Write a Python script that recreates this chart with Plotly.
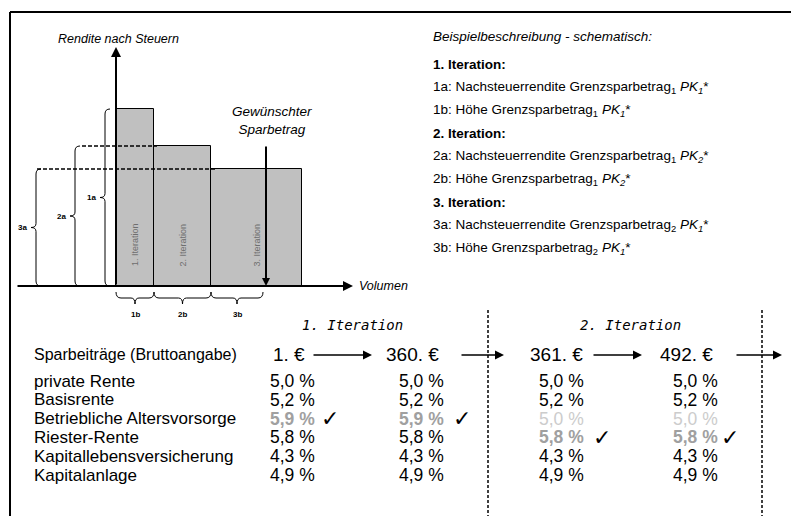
import plotly.graph_objects as go

# --- Schematic diagram data (arbitrary units, origin at axis cross) ---
bar_labels = ["1. Iteration", "2. Iteration", "3. Iteration"]
bar_widths = [38, 57, 91]
bar_returns = [177, 140, 117]
desired_volume = 150
brace_a_labels = ["1a", "2a", "3a"]
brace_b_labels = ["1b", "2b", "3b"]

# --- Description text ---
desc_lines = [
    "<i>Beispielbeschreibung - schematisch:</i>",
    "<b>1. Iteration:</b>",
    "1a: Nachsteuerrendite Grenzsparbetrag<sub>1</sub> <i>PK<sub>1</sub></i>*",
    "1b: Höhe Grenzsparbetrag<sub>1</sub> <i>PK<sub>1</sub></i>*",
    "<b>2. Iteration:</b>",
    "2a: Nachsteuerrendite Grenzsparbetrag<sub>1</sub> <i>PK<sub>2</sub></i>*",
    "2b: Höhe Grenzsparbetrag<sub>1</sub> <i>PK<sub>2</sub></i>*",
    "<b>3. Iteration:</b>",
    "3a: Nachsteuerrendite Grenzsparbetrag<sub>2</sub> <i>PK<sub>1</sub></i>*",
    "3b: Höhe Grenzsparbetrag<sub>2</sub> <i>PK<sub>1</sub></i>*",
]

# --- Table data ---
iterations = ["1. Iteration", "2. Iteration"]
amounts = ["1. €", "360. €", "361. €", "492. €"]
products = ["private Rente", "Basisrente", "Betriebliche Altersvorsorge",
            "Riester-Rente", "Kapitallebensversicherung", "Kapitalanlage"]
col1 = [5.0, 5.2, 5.9, 5.8, 4.3, 4.9]
col2 = [5.0, 5.2, 5.9, 5.8, 4.3, 4.9]
col3 = [5.0, 5.2, 5.0, 5.8, 4.3, 4.9]
col4 = [5.0, 5.2, 5.0, 5.8, 4.3, 4.9]
chosen = [2, 2, 3, 3]          # product selected in each column
exhausted = [None, None, 2, 2]  # product no longer available

W, H = 791, 516
OX, OY = 116, 286  # pixel position of diagram origin
FONT = "Liberation Sans, Arial"


def X(px):
    return px - OX


def Y(py):
    return OY - py


fig = go.Figure()

# bars
lefts = [sum(bar_widths[:i]) for i in range(len(bar_widths))]
centers = [l + w / 2 for l, w in zip(lefts, bar_widths)]
fig.add_trace(go.Bar(x=centers, y=bar_returns, width=bar_widths,
                     marker=dict(color="#c0c0c0", line=dict(color="black", width=1)),
                     hoverinfo="skip", showlegend=False))

ann = []
shapes = []

# frame (top and left)
shapes.append(dict(type="line", xref="paper", yref="paper", x0=10 / W, x1=1, y0=1 - 12 / H, y1=1 - 12 / H,
                   line=dict(color="black", width=2)))
shapes.append(dict(type="line", xref="paper", yref="paper", x0=10 / W, x1=10 / W, y0=0, y1=1 - 12 / H,
                   line=dict(color="black", width=2)))


def arrow(x0, y0, x1, y1, width=2, size=1.0):
    ann.append(dict(x=x1, y=y1, ax=x0, ay=y0, xref="x", yref="y", axref="x", ayref="y",
                    showarrow=True, arrowhead=2, arrowwidth=width, arrowsize=size,
                    arrowcolor="black", text=""))


# axes
arrow(0, 0, 0, Y(47))
arrow(X(16), 0, X(353), 0)
ann.append(dict(x=2, y=Y(39), text="<i>Rendite nach Steuern</i>", showarrow=False,
                font=dict(family=FONT, size=12.5, color="black")))
ann.append(dict(x=X(357), y=0, text="<i>Volumen</i>", showarrow=False, xanchor="left",
                font=dict(family=FONT, size=12.5, color="black")))

# rotated labels in the bars
for c, lab in zip(centers, bar_labels):
    ann.append(dict(x=c, y=Y(245), text=lab, textangle=-90, showarrow=False,
                    font=dict(family=FONT, size=9, color="#6e6e6e")))

# dashed return levels
dash_starts = [X(82), X(37)]
dash_ends = [lefts[1] + 3, lefts[2] + 4]
for ret, xs, xe in zip(bar_returns[1:], dash_starts, dash_ends):
    shapes.append(dict(type="line", x0=xs, x1=xe, y0=ret, y1=ret,
                       line=dict(color="black", width=1.5, dash="4px,2px")))

# desired amount arrow
arrow(desired_volume, Y(145), desired_volume, 0, width=2, size=0.8)
ann.append(dict(x=X(272), y=Y(120), text="<i>Gewünschter<br>Sparbetrag</i>", showarrow=False,
                font=dict(family=FONT, size=13.5, color="black")))


# curly braces
def vbrace(vx, y0, y1):
    ym = (y0 + y1) / 2
    return (f"M {vx+5},{y0} Q {vx},{y0} {vx},{y0+5} L {vx},{ym-4} Q {vx},{ym} {vx-5},{ym} "
            f"Q {vx},{ym} {vx},{ym+4} L {vx},{y1-5} Q {vx},{y1} {vx+5},{y1}")


def hbrace(x0, x1, yt):
    xm = (x0 + x1) / 2
    yl = yt - 6
    return (f"M {x0},{yt} Q {x0},{yl} {x0+5},{yl} L {xm-4},{yl} Q {xm},{yl} {xm},{yl-6} "
            f"Q {xm},{yl} {xm+4},{yl} L {x1-5},{yl} Q {x1},{yl} {x1},{yt}")


brace_x = [X(105), X(75), X(36)]
for bx, ret, lab in zip(brace_x, bar_returns, brace_a_labels):
    shapes.append(dict(type="path", path=vbrace(bx, 0, ret), line=dict(color="black", width=1)))
    ann.append(dict(x=bx - 7, y=ret / 2, text=f"<b>{lab}</b>", showarrow=False, xanchor="right",
                    font=dict(family=FONT, size=8, color="black")))

b_edges = lefts + [desired_volume - 3]
for i, lab in enumerate(brace_b_labels):
    x0, x1 = b_edges[i], b_edges[i + 1]
    shapes.append(dict(type="path", path=hbrace(x0, x1, Y(292)), line=dict(color="black", width=1)))
    ann.append(dict(x=(x0 + x1) / 2, y=Y(314), text=f"<b>{lab}</b>", showarrow=False,
                    font=dict(family=FONT, size=8, color="black")))

# description block
desc_y = [36] + [64 + 23 * i for i in range(len(desc_lines) - 1)]
for txt, py in zip(desc_lines, desc_y):
    ann.append(dict(x=X(431), y=Y(py), text=txt, showarrow=False, xanchor="left",
                    font=dict(family=FONT, size=13.5, color="black")))

# table
for lab, cx in zip(iterations, [352, 630]):
    ann.append(dict(x=X(cx), y=Y(325), text=f"<i>{lab}</i>", showarrow=False,
                    font=dict(family="DejaVu Sans Mono", size=14, color="black")))

ann.append(dict(x=X(32), y=Y(354), text="Sparbeiträge (Bruttoangabe)", showarrow=False, xanchor="left",
                font=dict(family=FONT, size=16, color="black")))
for a, ax_ in zip(amounts, [271, 384, 528, 658]):
    ann.append(dict(x=X(ax_), y=Y(354), text=a, showarrow=False, xanchor="left",
                    font=dict(family=FONT, size=19, color="black")))
for x0, x1 in [(312, 372), (460, 504), (592, 642), (735, 782)]:
    arrow(X(x0), Y(355), X(x1), Y(355), width=1.5, size=1.2)

for x in [488, 762]:
    shapes.append(dict(type="line", x0=X(x), x1=X(x), y0=Y(310), y1=Y(H),
                       line=dict(color="black", width=1.5, dash="3px,2px")))

row_y = [381 + 18.8 * i for i in range(len(products))]
for lab, py in zip(products, row_y):
    ann.append(dict(x=X(32), y=Y(py), text=lab, showarrow=False, xanchor="left",
                    font=dict(family=FONT, size=17, color="black")))

cols = [col1, col2, col3, col4]
col_x = [268, 397, 537, 671]
check_x = [330, 462, 602, 730]
for ci, (vals, cx) in enumerate(zip(cols, col_x)):
    for ri, (v, py) in enumerate(zip(vals, row_y)):
        txt = f"{v:.1f}".replace(".", ",") + " %"
        color = "black"
        if ri == chosen[ci]:
            txt = f"<b>{txt}</b>"
            color = "#a0a0a0"
        elif ri == exhausted[ci]:
            color = "#cccccc"
        ann.append(dict(x=X(cx), y=Y(py), text=txt, showarrow=False, xanchor="left",
                        font=dict(family=FONT, size=17.5, color=color)))
    ann.append(dict(x=X(check_x[ci]), y=Y(row_y[chosen[ci]]), text="✓", showarrow=False,
                    font=dict(family="DejaVu Sans", size=22, color="black")))

fig.update_layout(
    width=W, height=H,
    margin=dict(l=0, r=0, t=0, b=0),
    paper_bgcolor="white", plot_bgcolor="white",
    xaxis=dict(range=[X(0), X(W)], visible=False, fixedrange=True),
    yaxis=dict(range=[Y(H), Y(0)], visible=False, fixedrange=True),
    annotations=ann, shapes=shapes, bargap=0,
)

fig.write_html("out.html", config={"displayModeBar": False},
               post_script="document.body.style.margin='0px';")
